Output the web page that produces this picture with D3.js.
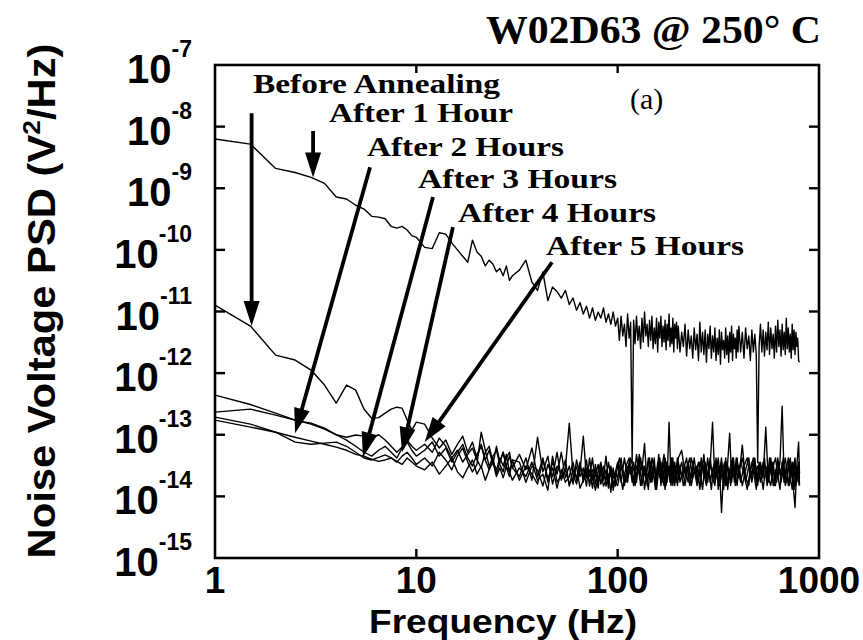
<!DOCTYPE html>
<html><head><meta charset="utf-8">
<script src="https://cdn.jsdelivr.net/npm/d3@7"></script>
<style>body{margin:0;background:#fff}</style>
</head><body>
<svg id="chart" width="863" height="640"></svg>
<script>
// ---------- DATA ----------
// frequency bins (Hz), low part shared by all traces
const freqsLow = [1,1.5,2,2.5,3,3.5,4,4.5,5,5.5,6,6.5,7,7.5,8,8.5,9,9.5,10,
 11,12,13,14,15,16,17,18,19,20,21,22,23,24,25,26,27,28,29,30,
 32.5,35,37.5,40,42.5,45,47.5,50,52.5,55,57.5,60,62.5,65,67.5,70,72.5,75,77.5,80,82.5,85,87.5,90,92.5,95,97.5];
// high part, set A
const freqsHighA = [100,104,108,112,116,120,124,128,132,136,140,144,148,152,156,160,164,168,172,176,180,184,188,192,196,
 200,208,216,224,232,240,248,256,264,272,280,288,296,304,312,320,328,336,344,352,360,368,376,384,392,
 400,416,432,448,464,480,496,512,528,544,560,576,592,608,624,640,656,672,688,704,720,736,752,768,784,800];
// high part, set B (interleaved bins)
const freqsHighB = [102,106,110,114,118,122,126,130,134,138,142,146,150,154,158,162,166,170,174,178,182,186,190,194,198,
 204,212,220,228,236,244,252,260,268,276,284,292,300,308,316,324,332,340,348,356,364,372,380,388,396,
 408,424,440,456,472,488,504,520,536,552,568,584,600,616,632,648,664,680,696,712,728,744,760,776,792,800];
// high part for the "After 1 Hour" trace (finer bins)
const freqsHigh1h = [100,102,104,106,108,110,112,114,116,118,120,122,124,126,128,130,132,134,136,138,
 140,142,144,146,148,150,152,154,156,158,160,162,164,166,168,170,172,174,176,178,
 180,182,184,186,188,190,192,194,196,198,
 200,204,208,212,216,220,224,228,232,236,240,244,248,252,256,260,264,268,272,276,
 280,284,288,292,296,300,304,308,312,316,320,324,328,332,336,340,344,348,352,356,
 360,364,368,372,376,380,384,388,392,396,
 400,408,416,424,432,440,448,456,464,472,480,488,496,504,512,520,528,536,544,552,
 560,568,576,584,592,600,608,616,624,632,640,648,656,664,672,680,688,696,704,712,
 720,728,736,744,752,760,768,776,784,792,800];

const after1hLow = [6.3e-9,5.2e-9,2.1e-9,1.8e-9,1.5e-9,1.2e-9,7.2e-10,6.7e-10,5.3e-10,4.6e-10,3.5e-10,3.4e-10,3.2e-10,2.4e-10,2.25e-10,2.4e-10,2.1e-10,1.7e-10,1.6e-10,
 1.1e-10,1.05e-10,1.9e-10,1.8e-10,1.3e-10,1e-10,7.9e-11,6.3e-11,1.44e-10,9.2e-11,7.9e-11,5.5e-11,6.8e-11,5.9e-11,4.4e-11,5e-11,3.8e-11,5.5e-11,3.2e-11,3.8e-11,
 4.7e-11,6.8e-11,3.0e-11,2.2e-11,4.4e-11,1.5e-11,2.5e-11,2.1e-11,1.65e-11,2.2e-11,1.3e-11,1.65e-11,1.05e-11,1.4e-11,9.1e-12,1.22e-11,7.8e-12,1.14e-11,7.2e-12,9.8e-12,7.8e-12,1.14e-11,6.7e-12,9.1e-12,6.2e-12,9.8e-12,5.8e-12];
const after1hHigh = [7.8e-12,3.4e-12,8.4e-12,4.0e-12,6.2e-12,2.7e-12,9.1e-12,3.7e-12,6.7e-12,3.5e-14,
 7.2e-12,3.0e-12,8.4e-12,3.4e-12,5.8e-12,2.5e-12,7.8e-12,3.2e-12,9.8e-12,4.0e-12,
 6.2e-12,2.7e-12,7.2e-12,3.4e-12,8.4e-12,2.5e-12,5.4e-12,3.0e-12,7.8e-12,2.2e-12,
 6.7e-12,3.7e-12,8.4e-12,2.7e-12,5.8e-12,3.2e-12,7.2e-12,2.4e-12,6.2e-12,3.4e-12,
 9.1e-12,2.7e-12,5.4e-12,3.0e-12,7.8e-12,2.2e-12,6.2e-12,3.7e-12,6.7e-12,2.5e-12,
 5.8e-12,2.2e-12,4.6e-12,2.7e-12,6.2e-12,1.9e-12,5.0e-12,2.5e-12,4.0e-12,1.75e-12,
 5.4e-12,2.4e-12,4.3e-12,1.6e-12,6.7e-12,2.2e-12,4.6e-12,2.0e-12,5.0e-12,1.5e-12,
 4.3e-12,2.5e-12,5.8e-12,1.75e-12,4.0e-12,2.2e-12,5.4e-12,1.6e-12,3.7e-12,2.0e-12,
 5.0e-12,1.4e-12,4.6e-12,2.4e-12,3.4e-12,1.75e-12,5.4e-12,2.0e-12,4.0e-12,1.5e-12,
 4.6e-12,2.2e-12,5.8e-12,1.6e-12,4.3e-12,2.5e-12,3.7e-12,1.75e-12,5.0e-12,2.2e-12,
 5.8e-12,2.2e-12,4.6e-12,1.75e-12,5.4e-12,2.5e-12,4.0e-12,1.6e-12,5.0e-12,2.2e-12,
 4.3e-12,2.0e-12,3.5e-14,2.7e-12,6.2e-12,2.2e-12,5.0e-12,1.9e-12,4.6e-12,2.4e-12,
 6.7e-12,2.0e-12,5.4e-12,2.5e-12,4.3e-12,1.75e-12,5.8e-12,2.2e-12,7.2e-12,2.7e-12,
 5.0e-12,1.9e-12,6.2e-12,2.4e-12,4.6e-12,2.0e-12,7.8e-12,2.5e-12,5.4e-12,2.2e-12,
 4.3e-12,1.75e-12,6.2e-12,2.4e-12,5.0e-12,2.0e-12,4.6e-12,2.7e-12,3.7e-12,1.6e-12,
 1.5e-12];

const beforeAnnealing = [1.27e-11,5.8e-12,1.96e-12,1.63e-12,1.12e-12,6.4e-13,3.26e-13,6.4e-13,5.3e-13,2.6e-13,1.85e-13,1.9e-13,2.24e-13,2.6e-13,2.8e-13,2.7e-13,1.73e-13,1.19e-13,1.6e-13,
 1.49e-13,8.8e-14,6.1e-14,8.2e-14,4.8e-14,7.0e-14,9.5e-14,5.2e-14,7.6e-14,4.2e-14,7.0e-14,3.9e-14,5.6e-14,3.3e-14,6.5e-14,3.6e-14,5.2e-14,3.1e-14,4.5e-14,2.9e-14,
 4.8e-14,2.7e-14,6.1e-14,2.1e-14,4.2e-14,1.7e-14,3.6e-14,2.3e-14,5.2e-14,2.0e-14,3.1e-14,1.58e-14,3.9e-14,2.1e-14,2.9e-14,1.47e-14,4.2e-14,1.83e-14,2.7e-14,1.36e-14,3.3e-14,2.0e-14,4.5e-14,1.7e-14,2.9e-14,1.47e-14,2.5e-14,
 3.6e-14,1.7e-14,4.2e-14,2e-14,3.1e-14,1.5e-14,4.8e-14,2.3e-14,3.6e-14,1.3e-14,2.7e-14,4.2e-14,1.7e-14,3.1e-14,2e-14,4.8e-14,1.5e-14,3.6e-14,2.3e-14,1.7e-14,1.6e-13,2e-14,4.2e-14,1.5e-14,2.7e-14,
 2.3e-14,3.6e-14,1.5e-14,3.1e-14,2e-14,4.2e-14,1.7e-14,2.7e-14,1.3e-14,3.6e-14,2e-14,3.1e-14,1.6e-13,1.7e-14,2.7e-14,1.5e-14,3.6e-14,2e-14,4.2e-14,1.3e-14,2.7e-14,1.7e-14,3.1e-14,2.3e-14,1.5e-14,
 3.1e-14,1.5e-14,2.7e-14,4.2e-14,1.7e-14,3.6e-14,2e-14,2.7e-14,1.3e-14,3.1e-14,2.3e-14,4.2e-14,1.5e-14,2.7e-14,2e-14,3.6e-14,2.9e-13,1.7e-14,3.1e-14,1.5e-14,2.3e-14,3.6e-14,1.3e-14,2.7e-14,2e-14,1.5e-14];

const after2h = [1.73e-13,1.33e-13,1.1e-13,9.1e-14,7.9e-14,7.0e-14,6.3e-14,5.6e-14,4.8e-14,4.5e-14,4.0e-14,3.7e-14,3.9e-14,4.2e-14,3.7e-14,3.3e-14,4.2e-14,3.6e-14,3.1e-14,
 2.7e-14,3.6e-14,2.3e-14,3.1e-14,4.2e-14,2.5e-14,2.0e-14,2.9e-14,3.9e-14,2.3e-14,3.1e-14,1.83e-14,2.7e-14,3.6e-14,2.1e-14,2.9e-14,2.0e-14,3.1e-14,2.5e-14,1.83e-14,
 2.9e-14,2.1e-14,3.6e-14,1.83e-14,2.3e-14,1.26e-14,4.5e-14,1.7e-14,2.1e-14,2.7e-14,1.58e-14,2.0e-14,3.1e-14,1.36e-14,1.83e-14,2.5e-14,1.7e-14,2.3e-14,1.26e-14,2.0e-14,2.7e-14,1.47e-14,1.83e-14,2.3e-14,1.17e-14,2.9e-14,1.7e-14,
 1.5e-14,3.1e-14,2.3e-14,1.7e-14,4.2e-14,2.7e-14,2e-14,3.6e-14,1.5e-14,3.1e-14,2.3e-14,2e-14,4.2e-14,2.7e-14,1.7e-14,3.6e-14,2.3e-14,2.7e-14,1.3e-14,3.6e-14,2.3e-14,4.2e-14,1.5e-14,3.1e-14,2e-14,
 3.6e-14,2e-14,3.1e-14,1.7e-14,4.2e-14,2.7e-14,1.5e-14,3.6e-14,2.7e-14,3.1e-14,1.7e-14,4.2e-14,2e-14,1.5e-14,3.6e-14,2.3e-14,4.2e-14,1.3e-14,3.1e-14,2.7e-14,2e-14,3.1e-14,4.2e-14,2e-14,3.6e-14,
 2.7e-14,4.2e-14,2e-14,1.5e-14,3.6e-14,2.3e-14,3.1e-14,1.7e-14,3.6e-14,2.7e-14,2e-14,1.5e-14,3.1e-14,4.2e-14,2.3e-14,1.3e-14,3.6e-14,2.7e-14,1.7e-14,3.1e-14,4.2e-14,2e-14,2.7e-14,1.5e-14,3.1e-14,2e-14];

const after3h = [1.93e-13,1.49e-13,1.1e-13,7.6e-14,7.0e-14,7.3e-14,7.6e-14,6.5e-14,5.2e-14,4.2e-14,3.9e-14,4.3e-14,4.7e-14,4.2e-14,3.6e-14,4.5e-14,5.2e-14,4.2e-14,3.3e-14,
 4.2e-14,3.1e-14,5.2e-14,3.9e-14,2.7e-14,4.5e-14,6.1e-14,3.6e-14,2.5e-14,3.3e-14,1.1e-13,5.6e-14,3.1e-14,4.2e-14,2.3e-14,3.6e-14,5.2e-14,2.9e-14,2.1e-14,3.9e-14,
 1.83e-14,3.1e-14,2.3e-14,1.58e-14,3.9e-14,2.0e-14,2.9e-14,1.36e-14,2.7e-14,1.7e-14,2.1e-14,3.6e-14,1.83e-14,2.5e-14,9.5e-14,2.0e-14,2.7e-14,1.36e-14,3.3e-14,1.7e-14,2.3e-14,3.1e-14,1.47e-14,2.1e-14,2.7e-14,1.26e-14,2.0e-14,
 4.2e-14,2.3e-14,1.7e-14,3.6e-14,2.7e-14,1.5e-14,3.1e-14,4.2e-14,2e-14,2.7e-14,1.3e-14,3.6e-14,2.3e-14,1.7e-14,3.1e-14,4.2e-14,2e-14,1.5e-14,3.6e-14,2.7e-14,1.7e-14,4.2e-14,2.3e-14,3.1e-14,1.5e-14,
 3.1e-14,1.5e-14,2.7e-14,4.2e-14,2e-14,3.1e-14,1.7e-14,4.2e-14,2.3e-14,1.5e-14,3.6e-14,2.7e-14,2e-14,4.2e-14,1.3e-14,3.1e-14,2.3e-14,1.7e-14,3.6e-14,2.7e-14,1.5e-14,3.6e-14,2e-14,4.2e-14,2.7e-14,
 1.7e-14,3.1e-14,4.2e-14,2e-14,2.7e-14,1.3e-14,3.6e-14,2.3e-14,3.1e-14,1.7e-14,4.2e-14,2e-14,1.5e-14,3.1e-14,3.6e-14,1.7e-14,2.7e-14,4.2e-14,2.3e-14,1.5e-14,3.1e-14,2.7e-14,4.2e-14,1.7e-14,3.6e-14,1.5e-14];

const after4h = [4.4e-13,3.1e-13,2.24e-13,1.73e-13,1.49e-13,1.23e-13,1.0e-13,8.2e-14,6.5e-14,5.2e-14,4.5e-14,5.6e-14,6.5e-14,5.2e-14,4.2e-14,6.1e-14,7.6e-14,5.6e-14,4.5e-14,
 5.6e-14,7.6e-14,4.5e-14,6.1e-14,3.6e-14,5.2e-14,7.0e-14,4.2e-14,3.1e-14,4.8e-14,6.5e-14,3.9e-14,2.7e-14,4.5e-14,5.6e-14,3.3e-14,2.5e-14,4.2e-14,5.2e-14,2.9e-14,
 2.1e-14,4.2e-14,1.83e-14,9.1e-14,2.5e-14,4.5e-14,1.58e-14,3.1e-14,2.3e-14,3.9e-14,1.47e-14,2.7e-14,2.0e-14,3.6e-14,1.7e-14,2.9e-14,2.1e-14,4.2e-14,1.58e-14,2.5e-14,3.6e-14,1.83e-14,2.7e-14,1.36e-14,3.1e-14,2.0e-14,2.3e-14,
 2e-14,4.2e-14,1.5e-14,3.1e-14,2.3e-14,3.6e-14,1.7e-14,4.8e-14,2.7e-14,7.2e-14,1.5e-14,3.1e-14,2.3e-14,4.2e-14,1.3e-14,2.7e-14,3.6e-14,1.7e-14,4.2e-14,2.3e-14,3.1e-14,1.5e-14,2.7e-14,3.6e-14,1.7e-14,
 4.2e-14,5.6e-14,2.3e-14,3.6e-14,1.5e-14,2.7e-14,3.1e-14,1.3e-14,3.6e-14,2e-14,4.2e-14,1.7e-14,2.7e-14,3.6e-14,2e-14,3.1e-14,5.5e-15,2.7e-14,1.5e-14,3.6e-14,1.06e-13,2e-14,3.1e-14,1.5e-14,4.2e-14,
 2e-14,6.8e-14,1.7e-14,3.1e-14,2.3e-14,4.2e-14,1.5e-14,3.6e-14,2e-14,1.33e-13,1.7e-14,2.7e-14,3.6e-14,1.5e-14,4.2e-14,2.3e-14,3.1e-14,1.7e-14,2.7e-14,4.2e-14,2e-14,1.3e-14,3.6e-14,2.3e-14,3.1e-14,1.7e-14];

const after5h = [2.33e-13,2.6e-13,2.08e-13,1.73e-13,1.54e-13,1.28e-13,1.0e-13,9.1e-14,9.9e-14,9.5e-14,8.8e-14,1.0e-13,8.2e-14,6.5e-14,5.2e-14,6.3e-14,8.2e-14,6.5e-14,5.6e-14,
 7.0e-14,5.2e-14,8.8e-14,6.5e-14,4.2e-14,5.6e-14,3.6e-14,4.8e-14,6.1e-14,3.9e-14,2.9e-14,5.2e-14,6.5e-14,3.6e-14,2.7e-14,4.2e-14,3.1e-14,4.8e-14,2.5e-14,3.9e-14,
 3.6e-14,1.7e-14,3.1e-14,2.7e-14,1.47e-14,3.3e-14,2.1e-14,5.2e-14,1.83e-14,2.9e-14,1.54e-13,2.3e-14,1.58e-14,3.1e-14,2.0e-14,3.9e-14,1.47e-14,2.7e-14,2.1e-14,3.3e-14,1.58e-14,2.5e-14,1.83e-14,3.6e-14,2.1e-14,2.7e-14,1.47e-14,
 2.7e-14,1.3e-14,3.1e-14,4.2e-14,1.7e-14,2.3e-14,3.6e-14,1.5e-14,3.1e-14,2e-14,4.2e-14,1.7e-14,2.7e-14,1.3e-14,3.6e-14,2e-14,3.1e-14,4.8e-14,1.5e-14,2.7e-14,2e-14,3.6e-14,1.7e-14,2.3e-14,4.2e-14,
 1.7e-14,2.7e-14,4.2e-14,1.5e-14,3.1e-14,2.3e-14,3.6e-14,2e-14,4.8e-14,1.7e-14,2.7e-14,1.3e-14,3.1e-14,2.3e-14,4.2e-14,1.7e-14,2.7e-14,3.6e-14,1.5e-14,2.3e-14,3.1e-14,4.2e-14,1.7e-14,2.7e-14,2e-14,
 3.6e-14,2.3e-14,1.3e-14,2.7e-14,4.2e-14,1.7e-14,3.1e-14,2e-14,4.2e-14,1.5e-14,2.7e-14,3.6e-14,2e-14,1.7e-14,3.1e-14,2.3e-14,4.2e-14,1.5e-14,2e-14,3.6e-14,2.7e-14,1.5e-14,6.6e-15,3.1e-14,7.6e-14,2.3e-14];

const xTickValues = [1, 10, 100, 1000];
const xTickLabels = ["1", "10", "100", "1000"];
const yExponents = [-7, -8, -9, -10, -11, -12, -13, -14, -15];

const labels = ["Before Annealing","After 1 Hour","After 2 Hours","After 3 Hours","After 4 Hours","After 5 Hours"];
// arrow tail / head in data coordinates [frequency, PSD]
const arrowTails = [[1.52,1.65e-8],[3.07,8.5e-9],[5.89,2.2e-9],[12.1,7.2e-10],[15.2,2.34e-10],[47.2,6.3e-11]];
const arrowHeads = [[1.52,5.8e-12],[3.07,1.5e-9],[2.5,1.06e-13],[5.43,4.3e-14],[8.49,5.2e-14],[11.0,7.6e-14]];

// ---------- LAYOUT ----------
const L = 215, R = 819, T = 65, B = 558;
const svg = d3.select("#chart");
const x = d3.scaleLog().domain([1, 1000]).range([L, R]);
const y = d3.scaleLog().domain([1e-15, 1e-7]).range([B, T]);

const sans = "'Liberation Sans', Arial, sans-serif";
const serif = "'Liberation Serif', 'Times New Roman', serif";

const fA = freqsLow.concat(freqsHighA);
const fB = freqsLow.concat(freqsHighB);
const f1h = freqsLow.concat(freqsHigh1h);
const series = [
  { f: f1h, v: after1hLow.concat(after1hHigh) },
  { f: fA, v: beforeAnnealing },
  { f: fA, v: after2h },
  { f: fB, v: after3h },
  { f: fA, v: after4h },
  { f: fB, v: after5h }
];

// curves
svg.append("g").selectAll("path").data(series).join("path")
  .attr("d", s => d3.line().x((d, i) => x(s.f[i])).y(d => y(d))(s.v))
  .attr("fill", "none").attr("stroke", "#000").attr("stroke-width", 1.4)
  .attr("stroke-linejoin", "round");

// frame
svg.append("rect").attr("x", L).attr("y", T).attr("width", R - L).attr("height", B - T)
  .attr("fill", "none").attr("stroke", "#000").attr("stroke-width", 2.6);

// ticks (inward)
const inner = [10, 100];
const tk = svg.append("g").attr("stroke", "#000").attr("stroke-width", 2.4);
inner.forEach(v => {
  tk.append("line").attr("x1", x(v)).attr("x2", x(v)).attr("y1", B).attr("y2", B - 9);
  tk.append("line").attr("x1", x(v)).attr("x2", x(v)).attr("y1", T).attr("y2", T + 8);
});
yExponents.slice(1, -1).forEach(e => {
  const yy = y(Math.pow(10, e));
  tk.append("line").attr("x1", L).attr("x2", L + 10).attr("y1", yy).attr("y2", yy);
  tk.append("line").attr("x1", R).attr("x2", R - 10).attr("y1", yy).attr("y2", yy);
});

// x tick labels
svg.append("g").selectAll("text").data(xTickValues).join("text")
  .attr("x", d => x(d)).attr("y", 593).attr("text-anchor", "middle")
  .attr("font-family", sans).attr("font-weight", "bold").attr("font-size", 37)
  .text((d, i) => xTickLabels[i]);

// y tick labels
yExponents.forEach(e => {
  const t = svg.append("text").attr("x", 192).attr("y", y(Math.pow(10, e)) + 18)
    .attr("text-anchor", "end").attr("font-family", sans).attr("font-weight", "bold");
  t.append("tspan").attr("font-size", 40).text("10");
  t.append("tspan").attr("font-size", 23).attr("dy", -26).text(String(e));
});

// axis titles
svg.append("text").attr("x", 503).attr("y", 633).attr("text-anchor", "middle")
  .attr("font-family", sans).attr("font-weight", "bold").attr("font-size", 33)
  .attr("textLength", 268).attr("lengthAdjust", "spacingAndGlyphs")
  .text("Frequency (Hz)");
const yt = svg.append("text").attr("transform", "translate(55,301) rotate(-90)")
  .attr("text-anchor", "middle").attr("font-family", sans).attr("font-weight", "bold")
  .attr("font-size", 38).attr("textLength", 515).attr("lengthAdjust", "spacingAndGlyphs");
yt.append("tspan").text("Noise Voltage PSD (V");
yt.append("tspan").attr("font-size", 24).attr("dy", -15).text("2");
yt.append("tspan").attr("dy", 15).text("/Hz)");

// chart title
svg.append("text").attr("x", 486).attr("y", 43).attr("font-family", serif)
  .attr("font-weight", "bold").attr("font-size", 40)
  .attr("textLength", 335).attr("lengthAdjust", "spacingAndGlyphs")
  .text("W02D63 @ 250° C");

svg.append("text").attr("x", 630).attr("y", 109).attr("font-family", serif)
  .attr("font-size", 30).text("(a)");

// annotation labels
const labelPos = [[253, 93, 247], [329, 122, 184], [367, 156, 197], [418, 188, 199], [458, 222, 198], [546, 255, 198]];
labels.forEach((s, i) => {
  svg.append("text").attr("x", labelPos[i][0]).attr("y", labelPos[i][1])
    .attr("font-family", serif).attr("font-weight", "bold").attr("font-size", 28)
    .attr("textLength", labelPos[i][2]).attr("lengthAdjust", "spacingAndGlyphs")
    .text(s);
});

// arrows
const ag = svg.append("g");
arrowTails.forEach((t, i) => {
  const x1 = x(t[0]), y1 = y(t[1]), x2 = x(arrowHeads[i][0]), y2 = y(arrowHeads[i][1]);
  const dx = x2 - x1, dy = y2 - y1, len = Math.hypot(dx, dy), ux = dx / len, uy = dy / len;
  const hl = 25, hw = 8;
  const bx = x2 - ux * hl, by = y2 - uy * hl;
  ag.append("line").attr("x1", x1).attr("y1", y1).attr("x2", bx + ux * 3).attr("y2", by + uy * 3)
    .attr("stroke", "#000").attr("stroke-width", 3.8);
  ag.append("path").attr("d", `M${x2},${y2}L${bx - uy * hw},${by + ux * hw}L${bx + uy * hw},${by - ux * hw}Z`)
    .attr("fill", "#000");
});
</script>
</body></html>
